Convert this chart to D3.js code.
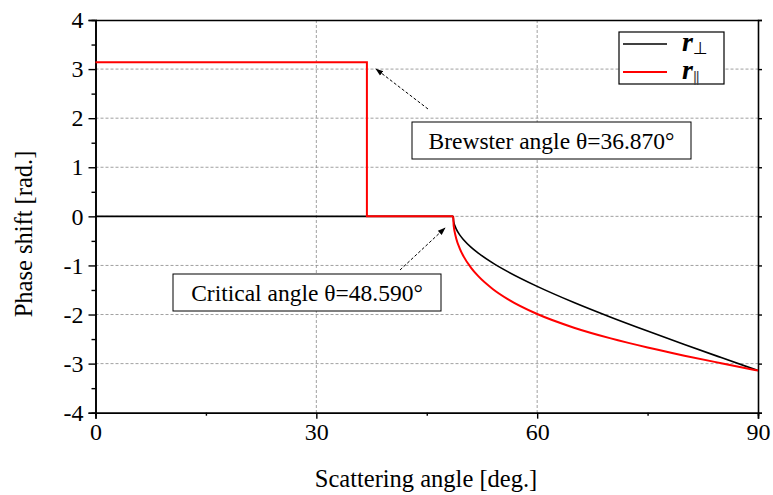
<!DOCTYPE html>
<html><head><meta charset="utf-8">
<script src="https://cdn.jsdelivr.net/npm/d3@7"></script>
<style>
body{margin:0;background:#fff;}
text{font-family:"Liberation Serif","Times New Roman",serif;}
</style></head>
<body><svg id="c" width="773" height="495"></svg>
<script>
// Data
const xTicks = [0, 30, 60, 90];
const yTicks = [-4, -3, -2, -1, 0, 1, 2, 3, 4];
const seriesNames = ["r\u22A5", "r||"];
const brewsterAngle = 36.870;
const criticalAngle = 48.590;
// angles (deg) and phase shifts (rad)
const angles = [0, 48.59, 48.65, 48.7, 48.8, 49, 49.5, 50, 51, 52, 54, 56, 60, 65, 70, 75, 80, 85, 90];
const rPerp = [0, 0, -0.097, -0.132, -0.182, -0.255, -0.382, -0.476, -0.626, -0.748, -0.953, -1.127, -1.427, -1.756, -2.055, -2.337, -2.610, -2.877, -3.1416];
const rParAngles = [0, 36.87, 36.87, 48.59, 48.65, 48.7, 48.8, 49, 49.5, 50, 51, 52, 54, 56, 60, 65, 70, 75, 80, 85, 90];
const rPar = [3.1416, 3.1416, 0, 0, -0.173, -0.234, -0.322, -0.449, -0.661, -0.815, -1.043, -1.219, -1.484, -1.686, -1.990, -2.268, -2.486, -2.671, -2.838, -2.992, -3.1416];

const svg = d3.select("#c");
const L = 95.5, R = 758, T = 20, B = 412.7;
const x = d3.scaleLinear().domain([0, 90]).range([L, R]);
const y = d3.scaleLinear().domain([-4, 4]).range([B, T]);
const fmt = d => String(d); // hyphen minus like the reference

// grid
const g = svg.append("g");
g.selectAll(".gy").data(yTicks.filter(v => v > -4 && v < 4)).enter().append("line")
  .attr("x1", L).attr("x2", R).attr("y1", d => y(d)).attr("y2", d => y(d))
  .attr("stroke", "#888").attr("stroke-width", 0.8).attr("stroke-dasharray", "3,2");
g.selectAll(".gx").data(xTicks.filter(v => v > 0 && v < 90)).enter().append("line")
  .attr("y1", T).attr("y2", B).attr("x1", d => x(d)).attr("x2", d => x(d))
  .attr("stroke", "#888").attr("stroke-width", 0.8).attr("stroke-dasharray", "3,2");

// axes
const fs = "24px";
const axL = svg.append("g").attr("transform", `translate(${L},0)`)
  .call(d3.axisLeft(y).tickValues(yTicks).tickSize(7).tickPadding(5).tickFormat(fmt));
const axLm = svg.append("g").attr("transform", `translate(${L},0)`)
  .call(d3.axisLeft(y).tickValues(d3.range(-3.5, 4, 1)).tickSize(4).tickFormat(""));
const axR = svg.append("g").attr("transform", `translate(${R},0)`)
  .call(d3.axisRight(y).tickValues(yTicks).tickSize(4).tickFormat(""));
const axB = svg.append("g").attr("transform", `translate(0,${B})`)
  .call(d3.axisBottom(x).tickValues(xTicks).tickSize(6).tickPadding(4).tickFormat(fmt));
const axBm = svg.append("g").attr("transform", `translate(0,${B})`)
  .call(d3.axisBottom(x).tickValues([15, 45, 75]).tickSize(3).tickFormat(""));
const axT = svg.append("g").attr("transform", `translate(0,${T})`)
  .call(d3.axisTop(x).tickValues(xTicks).tickSize(0).tickFormat(""));
[axL, axLm, axR, axB, axBm, axT].forEach(a => {
  a.selectAll("path").attr("stroke", "#000").attr("stroke-width", 1.6);
  a.selectAll("line").attr("stroke", "#000").attr("stroke-width", 1.4);
  a.selectAll("text").attr("font-size", fs).attr("fill", "#000")
    .style("font-family", '"Liberation Serif",serif');
});
axB.selectAll("text").attr("dy", "0.72em");

// lines
const line = d3.line().x(d => x(d[0])).y(d => y(d[1])).curve(d3.curveMonotoneX);
const lineLin = d3.line().x(d => x(d[0])).y(d => y(d[1]));
const perpData = angles.map((a, i) => [a, rPerp[i]]);
svg.append("path").datum(perpData).attr("d", line)
  .attr("fill", "none").attr("stroke", "#000").attr("stroke-width", 1.6);
const parData = rParAngles.map((a, i) => [a, rPar[i]]);
svg.append("path").datum(parData.slice(0, 4)).attr("d", lineLin)
  .attr("fill", "none").attr("stroke", "#f00").attr("stroke-width", 2);
svg.append("path").datum(parData.slice(3)).attr("d", line)
  .attr("fill", "none").attr("stroke", "#f00").attr("stroke-width", 2);

// axis titles
svg.append("text").attr("x", 426).attr("y", 487).attr("text-anchor", "middle")
  .attr("font-size", "24.5px").text("Scattering angle [deg.]");
svg.append("text").attr("transform", `translate(32,234) rotate(-90)`)
  .attr("text-anchor", "middle").attr("font-size", "24.5px").text("Phase shift [rad.]");

// legend
const lg = svg.append("g");
lg.append("rect").attr("x", 619).attr("y", 32).attr("width", 105).attr("height", 52)
  .attr("fill", "#fff").attr("stroke", "#000").attr("stroke-width", 1.2);
const colors = ["#000", "#f00"];
seriesNames.forEach((n, i) => {
  const yy = 44 + i * 28;
  lg.append("line").attr("x1", 623).attr("x2", 667).attr("y1", yy).attr("y2", yy)
    .attr("stroke", colors[i]).attr("stroke-width", i ? 2 : 1.6);
  const t = lg.append("text").attr("x", 682).attr("y", yy + 7).attr("font-size", "28px")
    .style("font-family", '"Liberation Serif",serif');
  t.append("tspan").attr("font-style", "italic").attr("font-weight", "bold").text(n.slice(0, 1));
  t.append("tspan").attr("font-size", i ? "15px" : "17px").attr("dy", 3)
    .attr("fill", i ? "#444" : "#000").attr("letter-spacing", i ? "-1px" : "0")
    .style("font-family", i ? '"Liberation Sans",sans-serif' : '"DejaVu Sans",sans-serif')
    .text(n.slice(1));
});

// arrow marker
svg.append("defs").append("marker").attr("id", "ah").attr("viewBox", "0 0 10 10")
  .attr("refX", 9).attr("refY", 5).attr("markerWidth", 8).attr("markerHeight", 8)
  .attr("orient", "auto").append("path").attr("d", "M0,1.5 L10,5 L0,8.5 Z").attr("fill", "#000");

function annot(text, bx, by, bw, bh, ax1, ay1, ax2, ay2) {
  svg.append("line").attr("x1", ax1).attr("y1", ay1).attr("x2", ax2).attr("y2", ay2)
    .attr("stroke", "#000").attr("stroke-width", 1).attr("stroke-dasharray", "3,2")
    .attr("marker-end", "url(#ah)");
  svg.append("rect").attr("x", bx).attr("y", by).attr("width", bw).attr("height", bh)
    .attr("fill", "#fff").attr("stroke", "#000").attr("stroke-width", 1);
  svg.append("text").attr("x", bx + bw / 2).attr("y", by + bh / 2 + 8).attr("text-anchor", "middle")
    .attr("font-size", "23.5px").text(text);
}
annot("Brewster angle \u03B8=" + brewsterAngle.toFixed(3) + "\u00B0", 412, 122, 279, 37, 428, 109, 376, 69);
annot("Critical angle \u03B8=" + criticalAngle.toFixed(3) + "\u00B0", 173, 274, 268, 37, 400, 270, 445, 228);
</script></body></html>
